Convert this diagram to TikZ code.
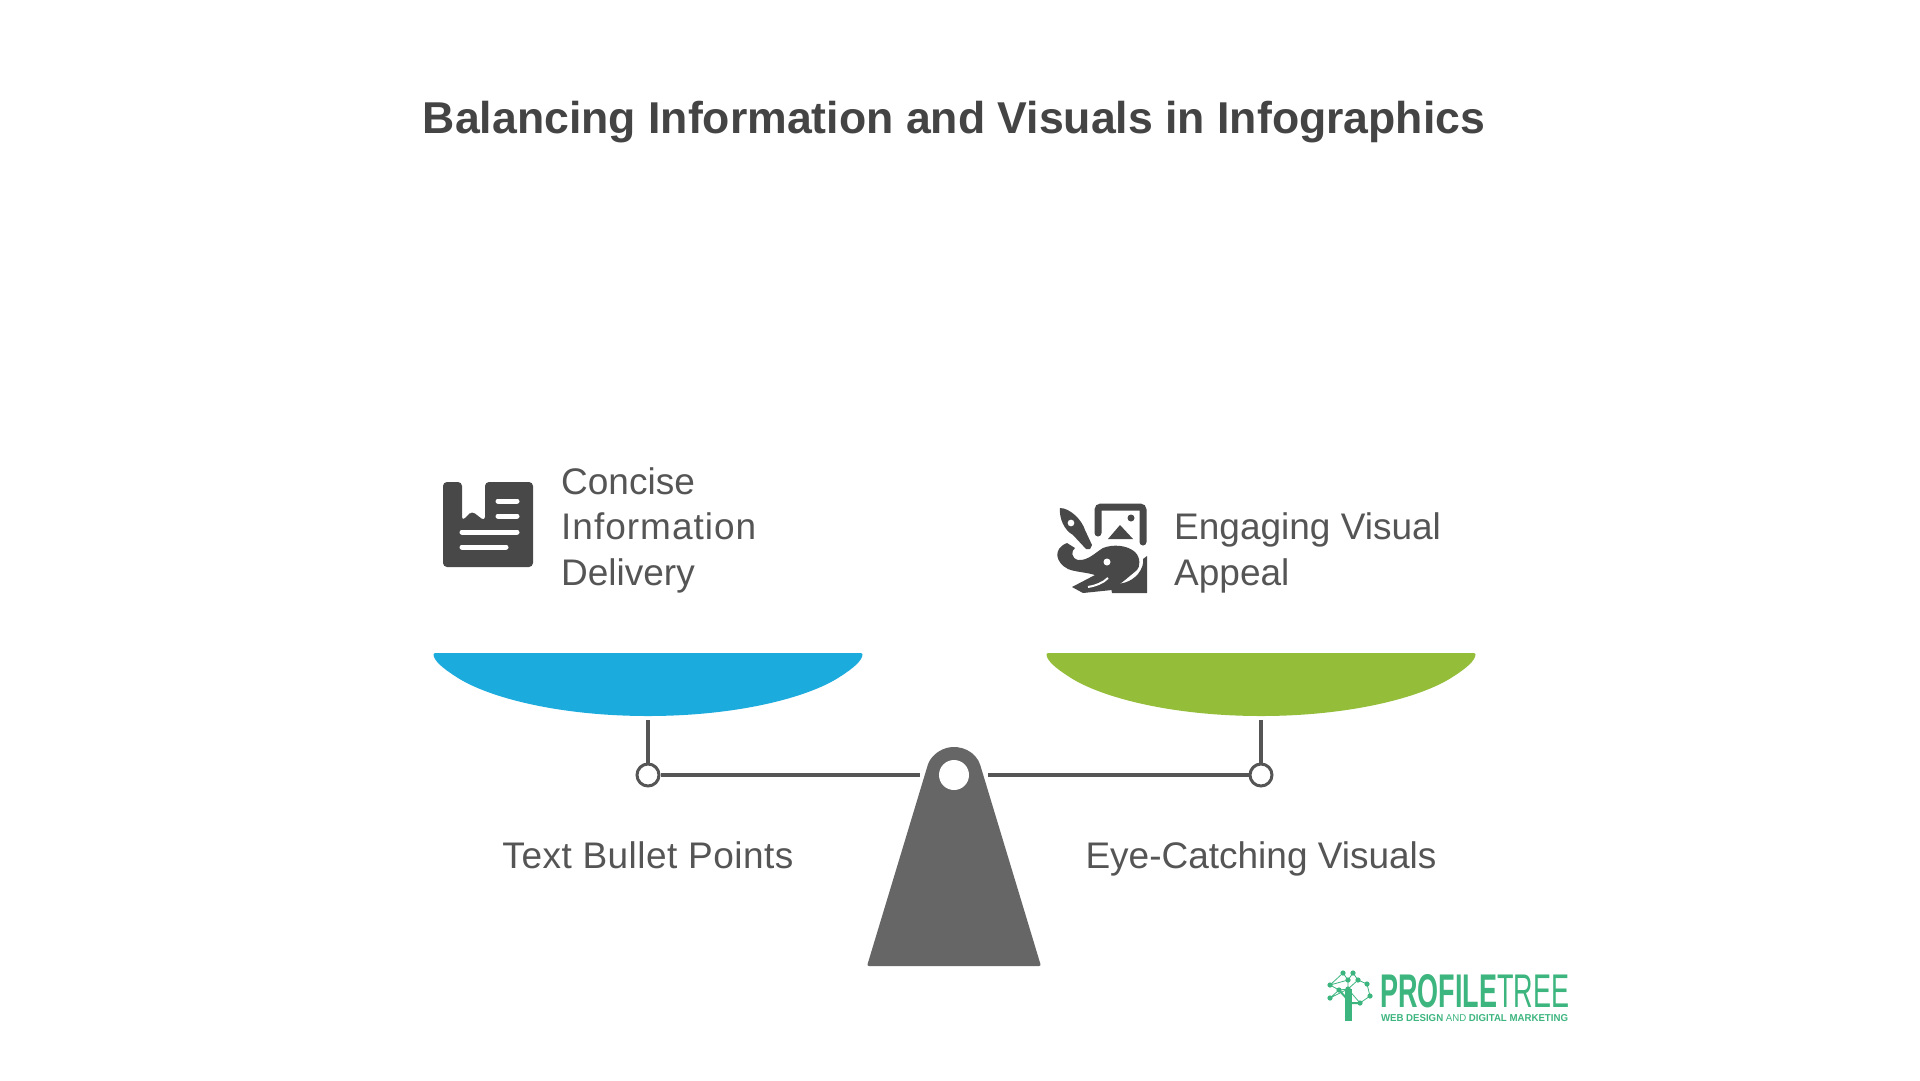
\documentclass[tikz,border=0pt]{standalone}
\usepackage{fontspec}
\setmainfont{Liberation Sans}
\definecolor{txtgray}{HTML}{555555}
\definecolor{titlegray}{HTML}{444444}
\definecolor{icongray}{HTML}{484848}
\definecolor{basegray}{HTML}{666666}
\definecolor{beamgray}{HTML}{555555}
\definecolor{bowlblue}{HTML}{1CABDD}
\definecolor{bowlgreen}{HTML}{94BE3A}
\definecolor{logogreen}{HTML}{3DB57F}
\begin{document}
\begin{tikzpicture}[x=1pt,y=-1pt]
  \tikzstyle{label}=[text=txtgray,font=\fontsize{37}{45.5}\selectfont,inner sep=0pt]
  \tikzstyle{sidetext}=[label,anchor=west,align=left]
  \tikzstyle{hinge}=[draw=beamgray,fill=white,line width=3pt,shape=circle,minimum size=22pt,inner sep=0pt]
  \tikzstyle{bar}=[draw=beamgray,line width=3.5pt]
  \tikzstyle{gap}=[white,line width=5pt,line cap=round]
  \tikzstyle{logo}=[text=logogreen,inner sep=0pt]
  \useasboundingbox (0,0) rectangle (1920,1080);
  \fill[white] (0,0) rectangle (1920,1080);
  \path (954,122) node[text=titlegray,font=\fontsize{44.6}{50}\selectfont\bfseries,inner sep=0pt] (title) {Balancing Information and Visuals in Infographics};
  \path (561,530) node[sidetext] (concise) {Concise\\{\addfontfeature{LetterSpace=2.7}Information}\\Delivery};
  \path (1174,553) node[sidetext] (engaging) {Engaging Visual\\Appeal};
  \path (648,868) node[label,anchor=base] (bullets) {\addfontfeature{LetterSpace=1.3}Text Bullet Points};
  \path (1261,868) node[label,anchor=base] (catching) {Eye-Catching Visuals};
  \foreach \bowlx/\bowlcol in {648/bowlblue,1261/bowlgreen}
    \fill[\bowlcol,shift={(\bowlx,0)}] (-212,653) -- (212,653) .. controls (215,653) and (215,655) .. (214,657) .. controls (211,664) and (201,671) .. (190,678) .. controls (158,698) and (88,716) .. (0,716) .. controls (-88,716) and (-158,698) .. (-190,678) .. controls (-201,671) and (-211,664) .. (-214,657) .. controls (-215,655) and (-215,653) .. (-212,653) -- cycle;
  \fill[basegray,rounded corners=2pt] (867,966) -- (1041,966) -- (980.8,766.9) arc[start angle=-16.8,end angle=-163.2,radius=28] -- cycle;
  \path (648,775) node[hinge] (hingeL) {};
  \path (1261,775) node[hinge] (hingeR) {};
  \path (954,775) node[shape=circle,fill=white,minimum size=30pt,inner sep=0pt] (pivot) {};
  \coordinate (stemL) at (648,720);
  \coordinate (stemR) at (1261,720);
  \coordinate (beamL) at (920,775);
  \coordinate (beamR) at (988,775);
  \draw[bar] (stemL) -- (hingeL);
  \draw[bar] (stemR) -- (hingeR);
  \draw[bar] (hingeL) -- (beamL);
  \draw[bar] (hingeR) -- (beamR);
  \fill[icongray,rounded corners=4pt] (443,482) -- (462,482) -- (462,521) -- (467,516) -- (472,511) -- (478,516) -- (485,521) -- (485,482) -- (533,482) -- (533,567) -- (443,567) -- cycle;
  \draw[gap] (498,501) -- (517,501);
  \draw[gap] (498,516) -- (517,516);
  \draw[gap] (462,532) -- (517,532);
  \draw[gap] (462,547) -- (506,547);
  \draw[icongray,line width=7pt,line cap=round,rounded corners=3pt] (1098,533) -- (1098,507) -- (1143,507) -- (1143,542);
  \fill[icongray] (1108,539) -- (1120,525) -- (1133,539) -- cycle;
  \fill[icongray] (1131,518) circle (3.5);
  \fill[icongray,even odd rule] (1060,508) .. controls (1070,508) and (1082,520) .. (1085,530) -- (1092,545) -- (1090,549) -- (1086,549) -- (1073,535) .. controls (1064,530) and (1059,518) .. (1060,508) -- cycle (1071,523) circle (3.5);
  \fill[icongray] (1067,543) -- (1075,548) .. controls (1071,551) and (1071,558) .. (1078,560) .. controls (1088,561) and (1096,552) .. (1103,548) .. controls (1113,544) and (1127,545) .. (1135,552) .. controls (1141,558) and (1140,567) .. (1137,570) -- (1125,580) -- (1112,590) -- (1083,593) -- (1072,587) -- (1095,575) .. controls (1085,572) and (1075,572) .. (1068,569) .. controls (1056,563) and (1052,549) .. (1067,543) -- cycle;
  \fill[icongray] (1147,556) -- (1147,593) -- (1112,593) -- (1110,582) .. controls (1120,586) and (1131,582) .. (1138,574) .. controls (1142,569) and (1144,563) .. (1143,559) -- cycle;
  \draw[white,line width=2pt] (1088,587) .. controls (1095,586) and (1103,583) .. (1108,578);
  \fill[white] (1107,562) circle (3.5);
  \path (1474.5,991.5) node[logo] (brand) {\resizebox{189pt}{33pt}{\textbf{PROFILE}TREE}};
  \path (1474.5,1018.5) node[logo] (tagline) {\resizebox{187pt}{7pt}{\textbf{WEB DESIGN} AND \textbf{DIGITAL MARKETING}}};
  \draw[logogreen,line width=0.8pt] (1343,973) -- (1348,980) -- (1353,973) (1343,973) -- (1330,985) -- (1339,990) -- (1348,989) -- (1358,980) -- (1367,984) -- (1370,996) -- (1360,1003) -- (1348,989) (1330,998) -- (1339,990) (1330,998) -- (1348,989) (1348,980) -- (1348,989) (1353,973) -- (1358,980) (1330,985) -- (1348,980);
  \draw[logogreen,line width=7pt] (1348,1021) -- (1348,989);
  \draw[logogreen,line width=2pt] (1348,1003) -- (1360,1003) (1348,1000) -- (1339,990);
  \foreach \dotx/\doty in {1343/973,1353/973,1330/985,1348/980,1358/980,1367/984,1339/990,1348/989,1370/996,1330/998,1360/1003}
    \fill[logogreen] (\dotx,\doty) circle (2.6);
\end{tikzpicture}
\end{document}
